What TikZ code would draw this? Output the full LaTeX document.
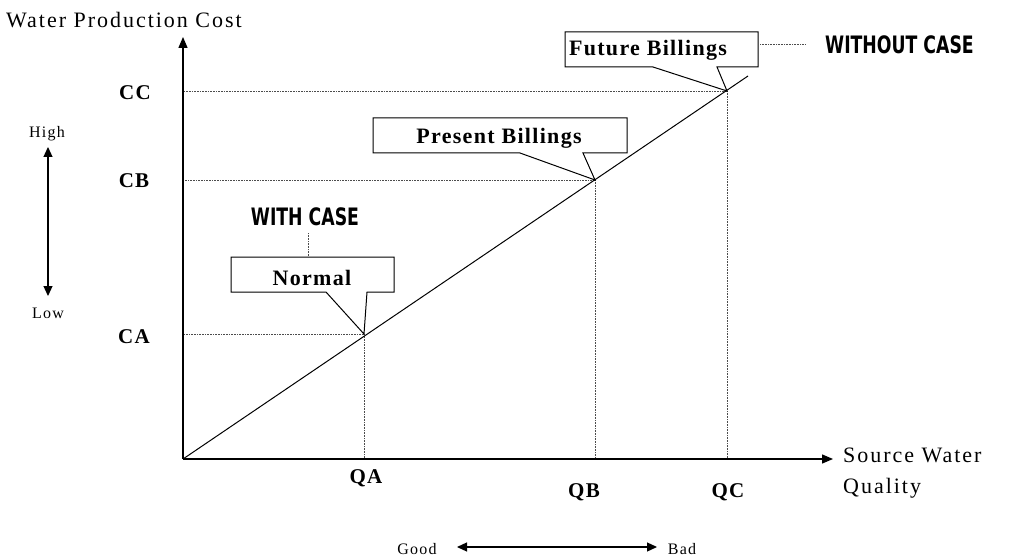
\documentclass[tikz,border=0pt]{standalone}
\usepackage{fontspec}
\setmainfont{Liberation Serif}
\newfontfamily\spacedfont[LetterSpace=9]{Liberation Serif}
\newfontfamily\tightfont[LetterSpace=6]{Liberation Serif}
\newfontfamily\smallfont[LetterSpace=8]{Liberation Serif}
\newfontfamily\casefont[FakeStretch=0.72]{DejaVu Sans}
\usetikzlibrary{arrows.meta}
\tikzset{
  axis/.style={line width=1.3pt,-{Triangle[length=11pt,width=9pt]}},
  guide/.style={line width=0.6pt,densely dotted,black!70},
  callout/.style={draw,line width=1pt,fill=white,line join=miter},
  tick/.style={font=\tightfont\bfseries\fontsize{21}{24}\selectfont,inner sep=0pt},
  boxtext/.style={font=\tightfont\bfseries\fontsize{22}{24}\selectfont,inner sep=0pt},
  plain/.style={font=\spacedfont\fontsize{22}{31}\selectfont,inner sep=0pt},
  small/.style={font=\smallfont\fontsize{16}{18}\selectfont,inner sep=0pt},
  casetext/.style={font=\casefont\bfseries\fontsize{24}{26}\selectfont,inner sep=0pt},
  dbl/.style={line width=1.2pt,{Triangle[length=10pt,width=9pt]}-{Triangle[length=10pt,width=9pt]}}
}
\begin{document}
\begin{tikzpicture}[x=1pt,y=-1pt]
\useasboundingbox (0,0) rectangle (1015,559);
% axes
\coordinate (O) at (183,459);
\coordinate (ytop) at (183,37);
\coordinate (xend) at (833,459);
\coordinate (Lend) at (748,76);
\coordinate (PA) at (364,334);
\coordinate (PB) at (595,180);
\coordinate (PC) at (727,91);
% guides
\draw[guide] (PA) -- (PA -| O);
\draw[guide] (PA) -- (PA |- O);
\draw[guide] (PB) -- (PB -| O);
\draw[guide] (PB) -- (PB |- O);
\draw[guide] (PC) -- (PC -| O);
\draw[guide] (PC) -- (PC |- O);
\draw[axis] (O) -- (ytop);
\draw[axis] (O) -- (xend);
\draw[line width=1pt] (O) -- (Lend);
% callouts
\draw[callout] (565,32) -- (758,32) -- (758,67) -- (717,67) -- (PC) -- (653,67) -- (565,67) -- cycle;
\draw[callout] (373,118) -- (627,118) -- (627,153) -- (583,153) -- (PB) -- (520,153) -- (373,153) -- cycle;
\draw[callout] (231,257) -- (394,257) -- (394,292) -- (367,292) -- (PA) -- (326,292) -- (231,292) -- cycle;
\node[boxtext] (fb) at (648,50) {Future Billings};
\node[boxtext] (pb) at (499,138) {Present Billings};
\node[boxtext] (nm) at (312,278) {Normal};
% case labels
\node[casetext,anchor=west] (wo) at (825,45) {WITHOUT CASE};
\coordinate (wofrom) at (760,44);
\draw[guide] (wofrom) -- (805,44);
\node[casetext] (wc) at (305,217) {WITH CASE};
\coordinate (wctop) at (308,233);
\draw[guide] (wctop) -- (308,257);
% axis titles
\node[plain,anchor=west] (ytitle) at (6,20) {Water Production Cost};
\node[plain,anchor=north west,align=left] (xtitle) at (843,448) {Source Water\\Quality};
% ticks
\node[tick] (cc) at (135,93) {CC};
\node[tick] (cb) at (134,181) {CB};
\node[tick] (ca) at (134,337) {CA};
\node[tick] (qa) at (366,478) {QA};
\node[tick] (qb) at (584,492) {QB};
\node[tick] (qc) at (728,492) {QC};
% high low
\node[small] (high) at (47,134) {High};
\node[small] (low) at (48,313) {Low};
\draw[dbl] (48,147) -- (48,296);
% good bad
\node[small] (good) at (417,549) {Good};
\node[small] (bad) at (682,549) {Bad};
\draw[dbl] (457,547) -- (657,547);
\end{tikzpicture}
\end{document}
